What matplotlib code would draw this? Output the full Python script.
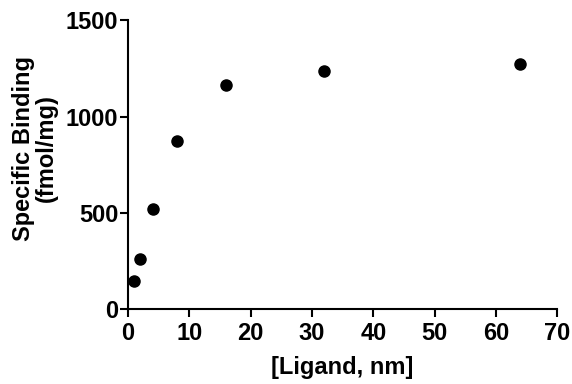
import matplotlib.pyplot as plt

ligand_nm = [1, 2, 4, 8, 16, 32, 64]
binding = [145, 258, 519, 872, 1163, 1237, 1272]
x_ticks = [0, 10, 20, 30, 40, 50, 60, 70]
y_ticks = [0, 500, 1000, 1500]

plt.rcParams["font.family"] = ["Liberation Sans", "DejaVu Sans"]
plt.rcParams["font.weight"] = "bold"

fig = plt.figure(figsize=(5.72, 3.84), dpi=100)
ax = fig.add_axes([0.224, 0.195, 0.750, 0.752])

ax.plot(ligand_nm, binding, "o", color="black", markersize=8, clip_on=False)

ax.set_xlim(0, 70)
ax.set_ylim(0, 1500)
ax.set_xticks(x_ticks)
ax.set_yticks(y_ticks)
for s in ("top", "right"):
    ax.spines[s].set_visible(False)
for s in ("left", "bottom"):
    ax.spines[s].set_linewidth(1.5)
ax.tick_params(width=1.5, length=6, labelsize=17, pad=1)
ax.tick_params(axis="x", pad=3)
for lbl in ax.get_xticklabels() + ax.get_yticklabels():
    lbl.set_fontweight("bold")

ax.set_xlabel("[Ligand, nm]", fontsize=17, fontweight="bold", labelpad=8)
ax.set_ylabel("Specific Binding\n(fmol/mg)", fontsize=17, fontweight="bold",
              labelpad=6, linespacing=0.95, y=0.557)

fig.savefig("out.png", dpi=100)
